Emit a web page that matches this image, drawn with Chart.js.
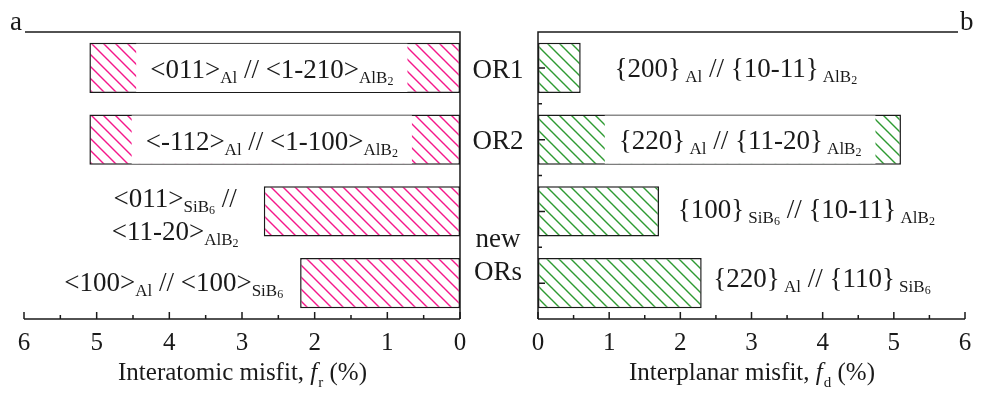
<!DOCTYPE html>
<html lang="en">
<head>
  <meta charset="UTF-8" />
  <title>Interatomic and interplanar misfit</title>
  <script src="https://cdn.jsdelivr.net/npm/chart.js"></script>
  <style>
    body { margin: 0; background: #fff; }
    #wrap { position: relative; width: 993px; height: 395px; }
    #wrap canvas { position: absolute; left: 0; top: 0; }
  </style>
</head>
<body>
<div id="wrap">
  <canvas id="leftChart" width="993" height="395"></canvas>
  <canvas id="rightChart" width="993" height="395"></canvas>
</div>

<script>
  // data
  const categories = ['OR1', 'OR2', 'new ORs', 'new ORs'];
  const interatomicMisfit = [5.1, 5.1, 2.7, 2.2];
  const interplanarMisfit = [0.6, 5.1, 1.7, 2.3];
  const xTicks = [0, 1, 2, 3, 4, 5, 6];
  const xMinorTicks = [0.5, 1.5, 2.5, 3.5, 4.5, 5.5];
  const groupNames = [['OR1'], ['OR2'], ['new', 'ORs']];

  // label text, segments are [text, level]: 0 normal, 1 subscript, 2 subscript of subscript
  const directionLabels = [
    [[['<011>', 0], ['Al', 1], [' // <1-210>', 0], ['AlB', 1], ['2', 2]]],
    [[['<-112>', 0], ['Al', 1], [' // <1-100>', 0], ['AlB', 1], ['2', 2]]],
    [[['<011>', 0], ['SiB', 1], ['6', 2], [' //', 0]], [['<11-20>', 0], ['AlB', 1], ['2', 2]]],
    [[['<100>', 0], ['Al', 1], [' // <100>', 0], ['SiB', 1], ['6', 2]]]
  ];
  const planeLabels = [
    [[['{200}', 0], [' Al', 1], [' // {10-11}', 0], [' AlB', 1], ['2', 2]]],
    [[['{220}', 0], [' Al', 1], [' // {11-20}', 0], [' AlB', 1], ['2', 2]]],
    [[['{100}', 0], [' SiB', 1], ['6', 2], [' // {10-11}', 0], [' AlB', 1], ['2', 2]]],
    [[['{220}', 0], [' Al', 1], [' // {110}', 0], [' SiB', 1], ['6', 2]]]
  ];

  // where the labels sit: x value of the text centre, baseline offsets from the bar centre
  const leftAnchors = [
    { at: 2.59, dy: [10], box: true },
    { at: 2.59, dy: [10], box: true },
    { at: 3.92, dy: [-4, 29] },
    { at: 3.94, dy: [8] }
  ];
  const rightAnchors = [
    { at: 2.78, dy: [9] },
    { at: 2.84, dy: [9], box: true },
    { at: 3.77, dy: [7] },
    { at: 3.99, dy: [4] }
  ];

  const SERIF = '"Liberation Serif", "DejaVu Serif", serif';
  const INK = '#1a1a1a';
  const levelFont = [27, 17, 12];
  const levelDrop = [0, 5, 7];

  function hatch(color) {
    const s = 12;
    const c = document.createElement('canvas');
    c.width = s; c.height = s;
    const g = c.getContext('2d');
    g.fillStyle = '#fff';
    g.fillRect(0, 0, s, s);
    g.strokeStyle = color;
    g.lineWidth = 1.4;
    g.beginPath();
    g.moveTo(-2, -2); g.lineTo(s + 2, s + 2);
    g.moveTo(s - 2, -2); g.lineTo(s + 2, 2);
    g.moveTo(-2, s - 2); g.lineTo(2, s + 2);
    g.stroke();
    return document.createElement('canvas').getContext('2d').createPattern(c, 'repeat');
  }

  function richWidth(ctx, segs) {
    let w = 0;
    segs.forEach(([t, lv]) => { ctx.font = levelFont[lv] + 'px ' + SERIF; w += ctx.measureText(t).width; });
    return w;
  }

  function drawRich(ctx, segs, cx, base) {
    let x = cx - richWidth(ctx, segs) / 2;
    ctx.textAlign = 'left';
    ctx.textBaseline = 'alphabetic';
    segs.forEach(([t, lv]) => {
      ctx.font = levelFont[lv] + 'px ' + SERIF;
      ctx.fillText(t, x, base + levelDrop[lv]);
      x += ctx.measureText(t).width;
    });
  }

  function drawLabels(chart, labels, anchors) {
    const { ctx, scales: { x } } = chart;
    const meta = chart.getDatasetMeta(0);
    labels.forEach((lines, i) => {
      const anc = anchors[i];
      const bar = meta.data[i];
      const cx = x.getPixelForValue(anc.at);
      if (anc.box) {
        const w = Math.max(...lines.map(l => richWidth(ctx, l)));
        ctx.fillStyle = '#fff';
        ctx.fillRect(cx - w / 2 - 14, bar.y - bar.height / 2 + 1, w + 28, bar.height - 2);
      }
      ctx.fillStyle = INK;
      lines.forEach((segs, k) => drawRich(ctx, segs, cx, bar.y + anc.dy[k]));
    });
  }

  function drawXAxis(chart, title, sub) {
    const { ctx, chartArea: a, scales: { x } } = chart;
    ctx.strokeStyle = INK;
    ctx.lineWidth = 1.5;
    ctx.beginPath();
    ctx.moveTo(a.left, a.bottom); ctx.lineTo(a.right, a.bottom);
    xTicks.forEach(v => { const p = x.getPixelForValue(v); ctx.moveTo(p, a.bottom); ctx.lineTo(p, a.bottom - 7); });
    xMinorTicks.forEach(v => { const p = x.getPixelForValue(v); ctx.moveTo(p, a.bottom); ctx.lineTo(p, a.bottom - 4); });
    ctx.stroke();

    ctx.fillStyle = INK;
    ctx.font = '25px ' + SERIF;
    ctx.textAlign = 'center';
    ctx.textBaseline = 'alphabetic';
    xTicks.forEach(v => ctx.fillText(String(v), x.getPixelForValue(v), a.bottom + 31));

    // axis title: text, italic f, subscript, (%)
    const parts = [[title, 'normal 25px '], ['f', 'italic 25px '], [sub, 'normal 15px '], [' (%)', 'normal 25px ']];
    let w = 0;
    parts.forEach(([t, f]) => { ctx.font = f + SERIF; w += ctx.measureText(t).width; });
    let px = (a.left + a.right) / 2 - w / 2;
    ctx.textAlign = 'left';
    parts.forEach(([t, f], k) => {
      ctx.font = f + SERIF;
      ctx.fillText(t, px, a.bottom + 61 + (k === 2 ? 7 : 0));
      px += ctx.measureText(t).width + (k === 1 ? 1 : 0);
    });
  }

  const leftDecor = {
    id: 'leftDecor',
    afterDatasetsDraw(chart) {
      const { ctx, chartArea: a } = chart;
      ctx.save();
      drawLabels(chart, directionLabels, leftAnchors);
      ctx.strokeStyle = INK;
      ctx.lineWidth = 1.5;
      ctx.beginPath();
      ctx.moveTo(a.left + 1, a.top); ctx.lineTo(a.right, a.top); ctx.lineTo(a.right, a.bottom);
      ctx.stroke();
      drawXAxis(chart, 'Interatomic misfit, ', 'r');
      ctx.fillStyle = INK;
      ctx.font = '27px ' + SERIF;
      ctx.textAlign = 'left';
      ctx.fillText('a', 10, 30);
      ctx.restore();
    }
  };

  const rightDecor = {
    id: 'rightDecor',
    afterDatasetsDraw(chart) {
      const { ctx, chartArea: a, scales: { y } } = chart;
      ctx.save();
      drawLabels(chart, planeLabels, rightAnchors);
      ctx.strokeStyle = INK;
      ctx.lineWidth = 1.5;
      ctx.beginPath();
      ctx.moveTo(a.right - 7, a.top); ctx.lineTo(a.left, a.top); ctx.lineTo(a.left, a.bottom);
      categories.forEach((c, i) => {
        const p = y.getPixelForValue(i);
        ctx.moveTo(a.left, p); ctx.lineTo(a.left + 7, p);
        if (i < categories.length - 1) {
          const q = y.getPixelForValue(i + 0.5);
          ctx.moveTo(a.left, q); ctx.lineTo(a.left + 4, q);
        }
      });
      ctx.stroke();
      drawXAxis(chart, 'Interplanar misfit, ', 'd');

      // group names between the panels
      ctx.fillStyle = INK;
      ctx.font = '27px ' + SERIF;
      ctx.textAlign = 'center';
      const mid = a.left - 40;
      ctx.fillText(groupNames[0][0], mid, y.getPixelForValue(0) + 10);
      ctx.fillText(groupNames[1][0], mid, y.getPixelForValue(1) + 9);
      ctx.fillText(groupNames[2][0], mid, y.getPixelForValue(2.5));
      ctx.fillText(groupNames[2][1], mid, y.getPixelForValue(2.5) + 33);

      ctx.textAlign = 'left';
      ctx.fillText('b', a.right - 5, 30);
      ctx.restore();
    }
  };

  function misfitChart(id, values, color, reverse, padding, plugin) {
    return new Chart(document.getElementById(id), {
      type: 'bar',
      data: {
        labels: categories,
        datasets: [{
          data: values,
          backgroundColor: hatch(color),
          borderColor: INK,
          borderWidth: 1.5,
          borderSkipped: false,
          barPercentage: 0.7,
          categoryPercentage: 1
        }]
      },
      options: {
        indexAxis: 'y',
        responsive: false,
        animation: false,
        devicePixelRatio: 1,
        layout: { padding: padding },
        scales: {
          x: { display: false, min: 0, max: 6, reverse: reverse },
          y: { display: false }
        },
        plugins: { legend: { display: false }, tooltip: { enabled: false } }
      },
      plugins: [plugin]
    });
  }

  misfitChart('leftChart', interatomicMisfit, '#f5178a', true, { left: 24, right: 533, top: 32, bottom: 76 }, leftDecor);
  misfitChart('rightChart', interplanarMisfit, '#2e9a32', false, { left: 538, right: 28, top: 32, bottom: 76 }, rightDecor);
</script>
</body>
</html>
